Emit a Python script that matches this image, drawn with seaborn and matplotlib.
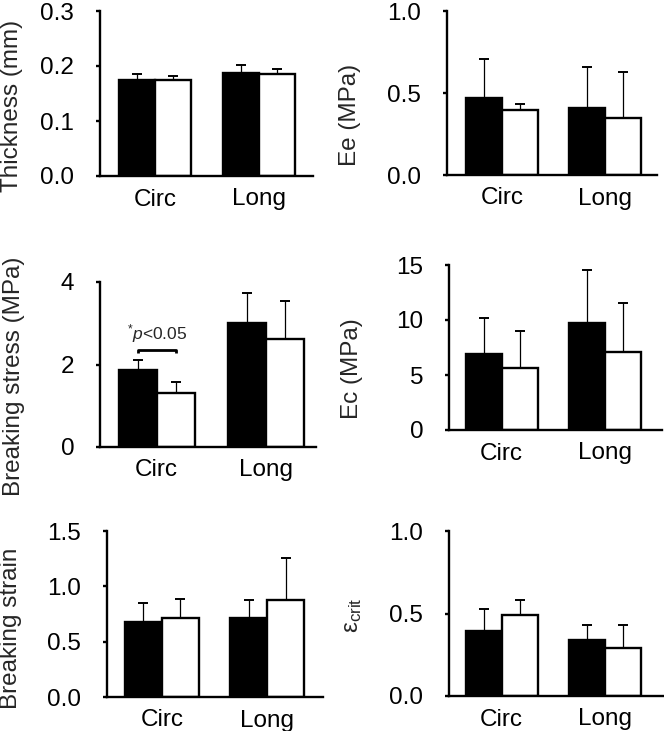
import matplotlib
matplotlib.use("Agg")
import matplotlib.pyplot as plt
import seaborn as sns
import pandas as pd

# ---------------- data ----------------
categories = ["Circ", "Long"]
groups = ["Group 1", "Group 2"]

thickness_g1 = [0.174, 0.187]
thickness_g1_sd = [0.012, 0.014]
thickness_g2 = [0.174, 0.186]
thickness_g2_sd = [0.008, 0.009]

ee_g1 = [0.47, 0.41]
ee_g1_sd = [0.235, 0.25]
ee_g2 = [0.395, 0.35]
ee_g2_sd = [0.04, 0.28]

stress_g1 = [1.86, 3.0]
stress_g1_sd = [0.25, 0.73]
stress_g2 = [1.30, 2.63]
stress_g2_sd = [0.27, 0.92]

ec_g1 = [6.9, 9.7]
ec_g1_sd = [3.25, 4.85]
ec_g2 = [5.66, 7.09]
ec_g2_sd = [3.37, 4.5]

strain_g1 = [0.68, 0.714]
strain_g1_sd = [0.17, 0.16]
strain_g2 = [0.717, 0.88]
strain_g2_sd = [0.17, 0.38]

ecrit_g1 = [0.395, 0.337]
ecrit_g1_sd = [0.13, 0.093]
ecrit_g2 = [0.492, 0.289]
ecrit_g2_sd = [0.09, 0.14]

ylabels = ["Thickness (mm)", "Ee (MPa)", "Breaking stress (MPa)", "Ec (MPa)",
           "Breaking strain", r"ε$_{\mathregular{crit}}$"]
yticks = [[0.0, 0.1, 0.2, 0.3], [0.0, 0.5, 1.0], [0, 2, 4], [0, 5, 10, 15],
          [0.0, 0.5, 1.0, 1.5], [0.0, 0.5, 1.0]]
tick_fmt = ["{:.1f}", "{:.1f}", "{:.0f}", "{:.0f}", "{:.1f}", "{:.1f}"]

panels = [
    (thickness_g1, thickness_g1_sd, thickness_g2, thickness_g2_sd),
    (ee_g1, ee_g1_sd, ee_g2, ee_g2_sd),
    (stress_g1, stress_g1_sd, stress_g2, stress_g2_sd),
    (ec_g1, ec_g1_sd, ec_g2, ec_g2_sd),
    (strain_g1, strain_g1_sd, strain_g2, strain_g2_sd),
    (ecrit_g1, ecrit_g1_sd, ecrit_g2, ecrit_g2_sd),
]

# ---------------- layout ----------------
W, H = 664, 731
# axes boxes in pixels: left, top, right, bottom
boxes = [(100, 11, 313, 176), (447, 11, 657, 175),
         (100, 282, 316, 447), (449, 265, 662, 430),
         (107, 531, 323, 697), (449, 531, 663, 696)]
# x-limits (category units)
xlims = [(-0.53, 1.52), (-0.53, 1.50), (-0.52, 1.46), (-0.51, 1.55),
         (-0.52, 1.53), (-0.51, 1.56)]
label_coords = [(-0.362, 0.427), (-0.41, 0.369), (-0.347, 0.428),
                (-0.404, 0.37), (-0.394, 0.414), (-0.397, 0.487)]

sns.set_theme(style="ticks")
plt.rcParams["font.family"] = ["Liberation Sans", "DejaVu Sans"]
plt.rcParams["mathtext.fontset"] = "custom"
plt.rcParams["mathtext.rm"] = "Liberation Sans"
plt.rcParams["mathtext.it"] = "Liberation Sans:italic"
plt.rcParams["mathtext.default"] = "regular"

fig = plt.figure(figsize=(W / 100, H / 100), dpi=100)
fig.patch.set_facecolor("white")

for i, (g1, g1sd, g2, g2sd) in enumerate(panels):
    l, t, r, b = boxes[i]
    ax = fig.add_axes([l / W, 1 - b / H, (r - l) / W, (b - t) / H])
    df = pd.DataFrame({
        "direction": categories * 2,
        "group": [groups[0]] * 2 + [groups[1]] * 2,
        "value": list(g1) + list(g2),
    })
    sns.barplot(data=df, x="direction", y="value", hue="group",
                order=categories, hue_order=groups,
                palette=["black", "white"], edgecolor="black", linewidth=1.7,
                width=0.7, errorbar=None, legend=False, ax=ax, zorder=2)
    sds = [g1sd, g2sd]
    for cont, sd in zip(ax.containers, sds):
        xs = [p.get_x() + p.get_width() / 2 for p in cont.patches]
        ys = [p.get_height() for p in cont.patches]
        ax.errorbar(xs, ys, yerr=[[0] * len(sd), sd], fmt="none",
                    ecolor="black", elinewidth=0.9, capsize=3.5,
                    capthick=1.4, zorder=1)
    ax.set_xlim(*xlims[i])
    ax.set_ylim(yticks[i][0], yticks[i][-1])
    ax.set_yticks(yticks[i])
    ax.set_yticklabels([tick_fmt[i].format(v) for v in yticks[i]])
    ax.set_xlabel("")
    ax.set_ylabel(ylabels[i], fontsize=17.5)
    ax.yaxis.set_label_coords(*label_coords[i])
    for s in ["top", "right"]:
        ax.spines[s].set_visible(False)
    for s in ["left", "bottom"]:
        ax.spines[s].set_linewidth(1.7)
        ax.spines[s].set_color("black")
    ax.tick_params(axis="y", direction="out", length=3, width=1.7,
                   pad=15.5, labelsize=17.5, colors="black")
    ax.tick_params(axis="x", length=0, pad=9, labelsize=17.5, colors="black")
    ax.set_facecolor("white")

    if i == 2:
        c0 = ax.containers[0].patches[0]
        c1 = ax.containers[1].patches[0]
        x1 = c0.get_x() + c0.get_width() / 2
        x2 = c1.get_x() + c1.get_width() / 2
        yb, dy = 2.35, 0.08
        ax.plot([x1, x1, x2, x2], [yb - dy, yb, yb, yb - dy], color="black",
                lw=2.0, solid_capstyle="butt", zorder=3)
        ax.text((x1 + x2) / 2, yb + 0.12, r"$^{*}$$\mathit{p}$<0.05",
                ha="center", va="bottom", fontsize=12.5)

fig.savefig("out.png", dpi=100, facecolor="white")
